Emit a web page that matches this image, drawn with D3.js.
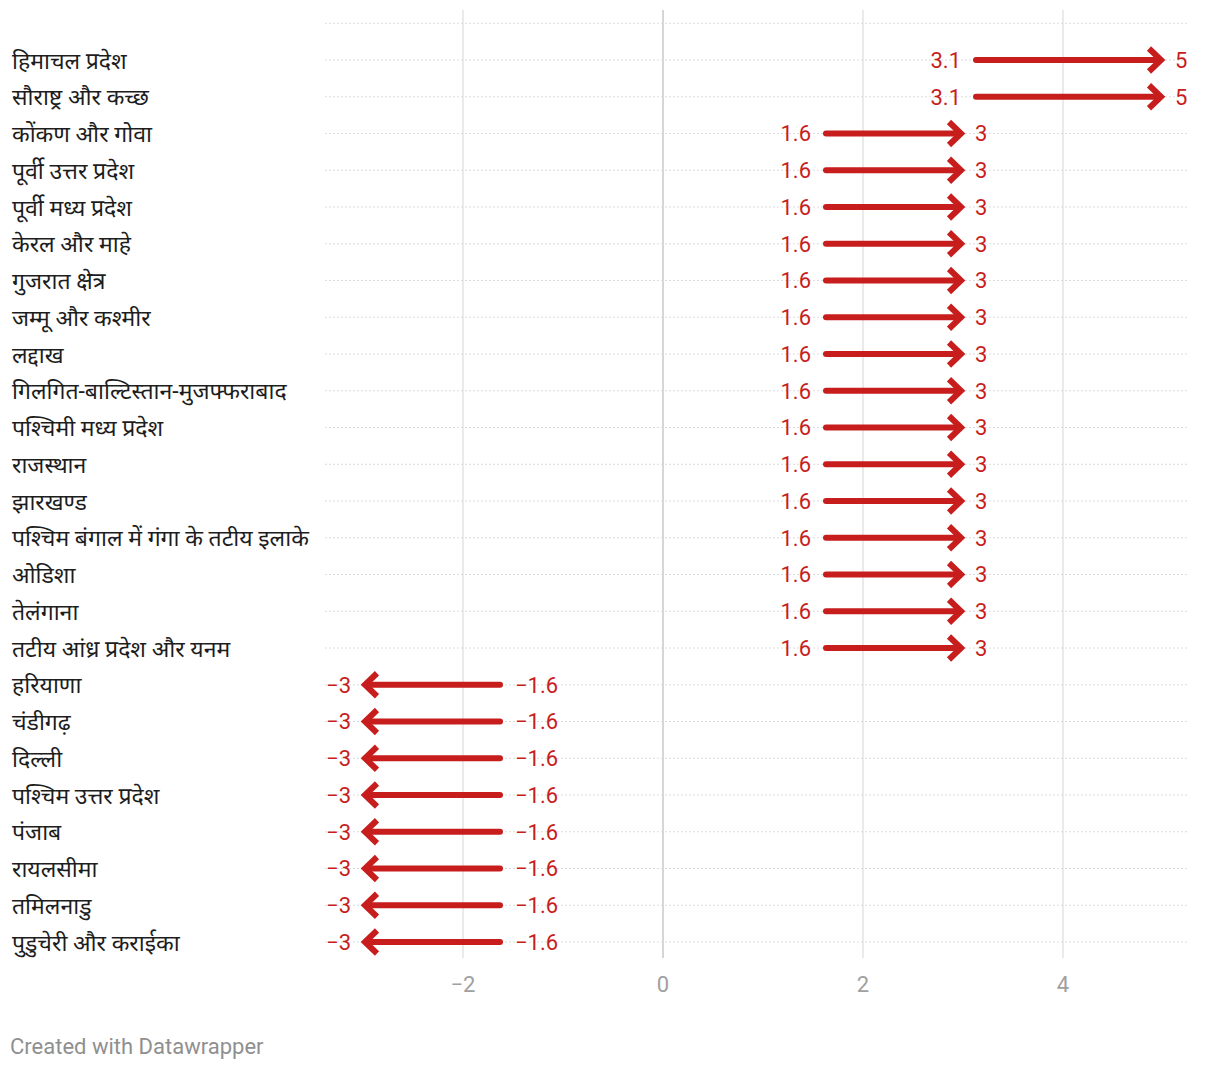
<!DOCTYPE html>
<html>
<head>
<meta charset="utf-8">
<script src="https://cdn.jsdelivr.net/npm/d3@7"></script>
<style>
  body { margin: 0; background: #fff; }
  svg { display: block; }
</style>
</head>
<body>
<svg id="chart"></svg>
<script>
// data
const regions = [
  "हिमाचल प्रदेश", "सौराष्ट्र और कच्छ", "कोंकण और गोवा", "पूर्वी उत्तर प्रदेश",
  "पूर्वी मध्य प्रदेश", "केरल और माहे", "गुजरात क्षेत्र", "जम्मू और कश्मीर", "लद्दाख",
  "गिलगित-बाल्टिस्तान-मुजफ्फराबाद", "पश्चिमी मध्य प्रदेश", "राजस्थान", "झारखण्ड",
  "पश्चिम बंगाल में गंगा के तटीय इलाके", "ओडिशा", "तेलंगाना", "तटीय आंध्र प्रदेश और यनम",
  "हरियाणा", "चंडीगढ़", "दिल्ली", "पश्चिम उत्तर प्रदेश", "पंजाब", "रायलसीमा",
  "तमिलनाडु", "पुडुचेरी और कराईका"
]
const fromValues = [3.1, 3.1, 1.6, 1.6, 1.6, 1.6, 1.6, 1.6, 1.6, 1.6, 1.6, 1.6, 1.6,
  1.6, 1.6, 1.6, 1.6, -1.6, -1.6, -1.6, -1.6, -1.6, -1.6, -1.6, -1.6]
const toValues = [5, 5, 3, 3, 3, 3, 3, 3, 3, 3, 3, 3, 3,
  3, 3, 3, 3, -3, -3, -3, -3, -3, -3, -3, -3]
const xTicks = [-2, 0, 2, 4]

const rows = regions.map((name, i) => ({ name, from: fromValues[i], to: toValues[i] }))

const full_width = 1220
const full_height = 1070
const red = "#c71e1d"
const fmt = v => String(v).replace("-", "\u2212")

const svg = d3.select("#chart")
  .attr("width", full_width)
  .attr("height", full_height)

const x = d3.scaleLinear().domain([-3.38, 5.25]).range([325, 1188])
const y = d3.scalePoint().domain(regions).range([60, 942])
const step = y.step()

// vertical grid
svg.append("g")
  .selectAll("line")
  .data(xTicks)
  .join("line")
  .attr("x1", d => x(d)).attr("x2", d => x(d))
  .attr("y1", 10).attr("y2", 958)
  .attr("stroke", d => d === 0 ? "#c8c8c8" : "#e3e3e3")
  .attr("stroke-width", 1.5)

// dotted row lines (plus one on top)
svg.append("g")
  .selectAll("line")
  .data([null].concat(regions))
  .join("line")
  .attr("x1", 325).attr("x2", 1188)
  .attr("y1", d => d === null ? y(regions[0]) - step : y(d))
  .attr("y2", d => d === null ? y(regions[0]) - step : y(d))
  .attr("stroke", "#dcdcdc")
  .attr("stroke-width", 1)
  .attr("stroke-dasharray", "2,2")

// x axis labels
svg.append("g")
  .selectAll("text")
  .data(xTicks)
  .join("text")
  .attr("x", d => x(d))
  .attr("y", 992)
  .attr("text-anchor", "middle")
  .attr("font-family", "Roboto, sans-serif")
  .attr("font-size", "22px")
  .attr("fill", "#a0a0a0")
  .text(fmt)

// row labels
svg.append("g")
  .selectAll("text")
  .data(rows)
  .join("text")
  .attr("x", 12)
  .attr("y", d => y(d.name))
  .attr("dy", "0.38em")
  .attr("font-family", "Roboto, 'Noto Sans', sans-serif")
  .attr("font-size", "23px")
  .attr("fill", "#1d1d1d")
  .text(d => d.name)

// arrows
const arrows = svg.append("g")
  .selectAll("g")
  .data(rows)
  .join("g")

arrows.append("line")
  .attr("x1", d => x(d.from) + Math.sign(d.to - d.from) * 3)
  .attr("x2", d => x(d.to) - Math.sign(d.to - d.from) * 3)
  .attr("y1", d => y(d.name)).attr("y2", d => y(d.name))
  .attr("stroke", red)
  .attr("stroke-width", 6)
  .attr("stroke-linecap", "round")

arrows.append("path")
  .attr("d", d => {
    const dir = Math.sign(d.to - d.from)
    const tx = x(d.to) - dir * 2
    const cy = y(d.name)
    return `M${tx - dir * 12},${cy - 11.5}L${tx},${cy}L${tx - dir * 12},${cy + 11.5}`
  })
  .attr("fill", "none")
  .attr("stroke", red)
  .attr("stroke-width", 6)
  .attr("stroke-linejoin", "miter")

arrows.append("text")
  .attr("x", d => x(d.from) - Math.sign(d.to - d.from) * 12)
  .attr("y", d => y(d.name))
  .attr("dy", "0.36em")
  .attr("text-anchor", d => d.to > d.from ? "end" : "start")
  .attr("font-family", "Roboto, sans-serif")
  .attr("font-size", "22px")
  .attr("fill", red)
  .text(d => fmt(d.from))

arrows.append("text")
  .attr("x", d => x(d.to) + Math.sign(d.to - d.from) * 12)
  .attr("y", d => y(d.name))
  .attr("dy", "0.36em")
  .attr("text-anchor", d => d.to > d.from ? "start" : "end")
  .attr("font-family", "Roboto, sans-serif")
  .attr("font-size", "22px")
  .attr("fill", red)
  .text(d => fmt(d.to))

// footer
svg.append("text")
  .attr("x", 10)
  .attr("y", 1054)
  .attr("font-family", "Roboto, sans-serif")
  .attr("font-size", "22px")
  .attr("fill", "#8f8f8f")
  .text("Created with Datawrapper")
</script>
</body>
</html>
